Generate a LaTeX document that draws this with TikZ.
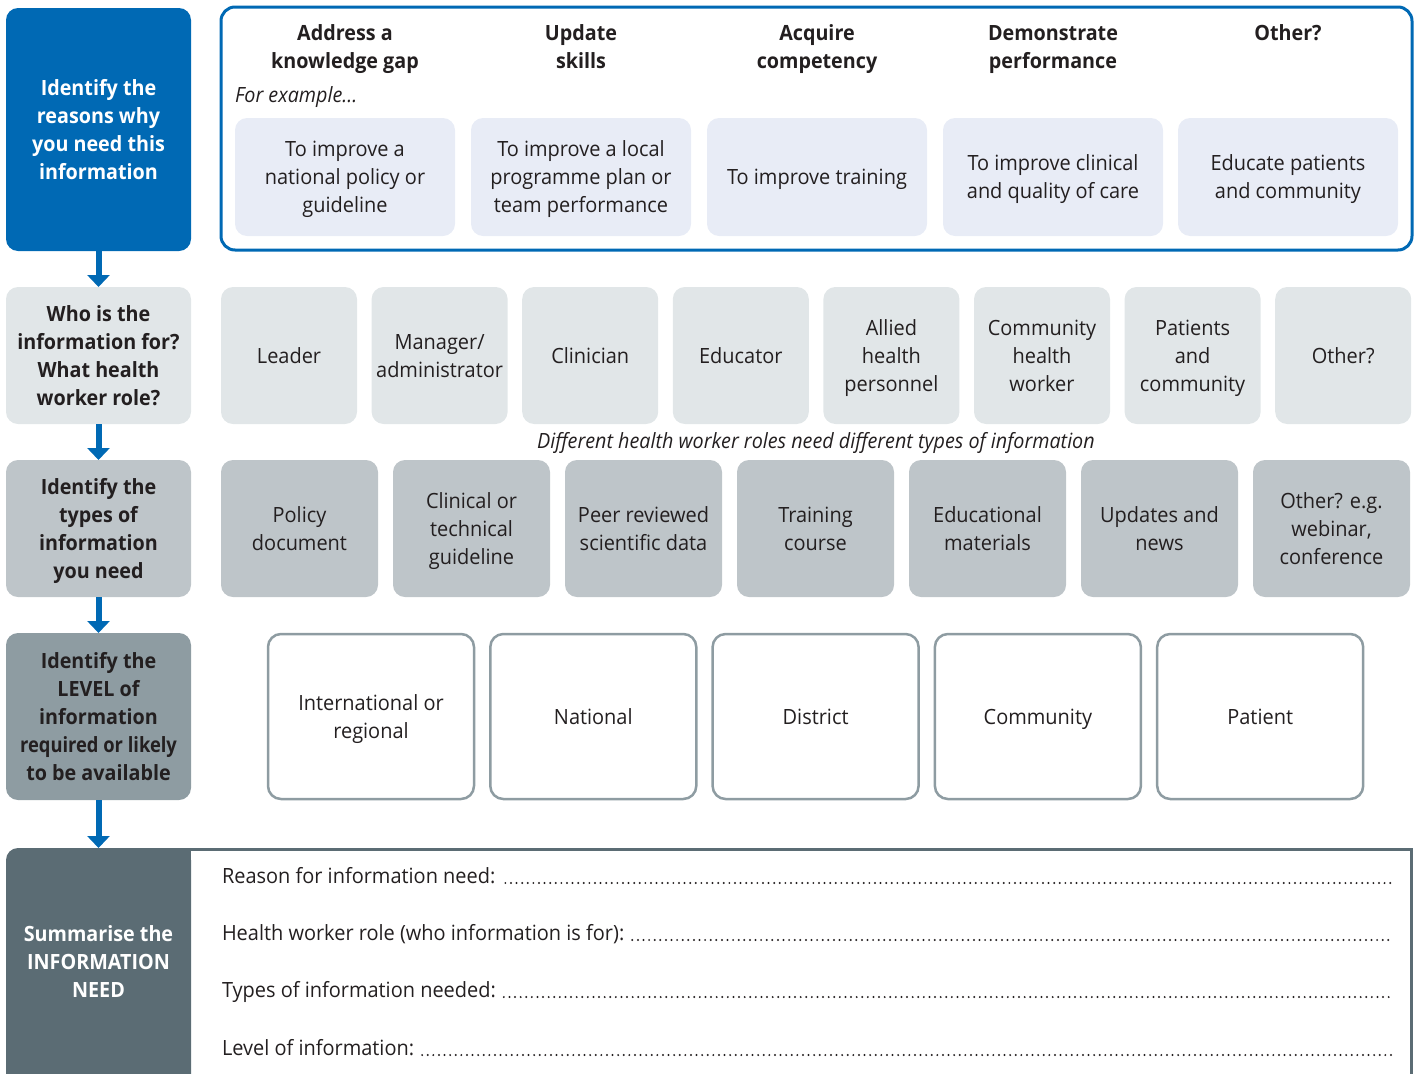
\documentclass[tikz,border=0pt]{standalone}
\usepackage{fontspec}
\usepackage{graphicx}
\setmainfont{Open Sans}[FakeStretch=0.95,BoldFeatures={FakeStretch=0.94},ItalicFeatures={FakeStretch=0.94}]
\usetikzlibrary{arrows.meta}
\definecolor{cblue}{HTML}{0069B4}
\definecolor{clav}{HTML}{E8ECF6}
\definecolor{cgrayA}{HTML}{E1E6E8}
\definecolor{cgrayB}{HTML}{BEC5C9}
\definecolor{cgrayC}{HTML}{8E9CA2}
\definecolor{cslate}{HTML}{5B6C74}
\definecolor{ink}{HTML}{231F20}
\newcommand\Ts{\rule{0pt}{21.5pt}}
\newcommand\Bs{\rule[-6.5pt]{0pt}{6.5pt}}
\begin{document}
\begin{tikzpicture}[x=1pt,y=-1pt,
  every node/.style={inner sep=0pt,outer sep=0pt,text=ink},
  txt/.style={font=\fontsize{21}{28}\selectfont,align=center},
  btxt/.style={txt,font=\fontsize{21}{28}\selectfont\bfseries},
  itxt/.style={txt,font=\fontsize{21}{28}\selectfont\itshape},
  lbox/.style={btxt,minimum width=185pt,rounded corners=12pt},
  inbox/.style={txt,fill=clav,minimum width=220pt,minimum height=118pt,rounded corners=12pt},
  rolebox/.style={txt,fill=cgrayA,minimum width=136pt,minimum height=137pt,rounded corners=12pt},
  typebox/.style={txt,fill=cgrayB,minimum width=157pt,minimum height=137pt,rounded corners=12pt},
  levbox/.style={txt,fill=white,draw=cgrayC,line width=2.5pt,minimum width=206pt,minimum height=165pt,rounded corners=13pt},
  arr/.style={draw=cblue,line width=6pt,-{Triangle[width=22pt,length=12pt]}},
  dots/.style={draw=ink,line width=2.2pt,dash pattern=on 0pt off 5.6pt,line cap=round},
  sumtxt/.style={txt,anchor=base west}
]
\useasboundingbox (0,0) rectangle (1417,1074);

% left column
\node[lbox,fill=cblue,text=white,minimum height=243pt] (b1) at (98.5,129.5)
  {\Ts Identify the\\reasons why\\you need this\\information\Bs};
\node[lbox,fill=cgrayA,minimum height=137pt] (b2) at (98.5,355.5)
  {\Ts Who is the\\information for?\\What health\\worker role?\Bs};
\node[lbox,fill=cgrayB,minimum height=137pt] (b3) at (98.5,528.5)
  {\Ts Identify the\\types of\\information\\you need\Bs};
\node[lbox,fill=cgrayC,minimum height=167pt] (b4) at (98.5,716.5)
  {\Ts Identify the\\LEVEL of\\information\\\scalebox{0.93}[1]{required or likely}\\to be available\Bs};

% summary box
\draw[cslate,line width=3pt] (188,849.5) -- (1411.5,849.5) -- (1411.5,1090);
\node[fill=cslate,minimum width=185pt,minimum height=260pt,rounded corners=12pt] (b5) at (98.5,978) {};
\fill[cslate] (b5.north east) rectangle ++(-20,20);
\node[btxt,text=white] (t5) at (98.5,962) {\Ts Summarise the\\INFORMATION\\NEED\Bs};

% arrows
\draw[arr] (b1.south) -- (b2.north);
\draw[arr] (b2.south) -- (b3.north);
\draw[arr] (b3.south) -- (b4.north);
\draw[arr] (b4.south) -- (b5.north);

% top box
\node[draw=cblue,line width=3pt,rounded corners=14pt,minimum width=1191pt,minimum height=243pt] (top) at (816.5,128.5) {};
\node[btxt] (h1) at (345,47) {\Ts Address a\\knowledge gap\Bs};
\node[btxt] (h2) at (581,47) {\Ts Update\\skills\Bs};
\node[btxt] (h3) at (817,47) {\Ts Acquire\\competency\Bs};
\node[btxt] (h4) at (1053,47) {\Ts Demonstrate\\performance\Bs};
\node[btxt] (h5) at (1288,33) {\Ts Other?\Bs};
\node[itxt,anchor=west] (fe) at (235,95) {\Ts For example…\Bs};
\node[inbox] (e1) at (345,177) {\Ts To improve a\\national policy or\\guideline\Bs};
\node[inbox] (e2) at (581,177) {\Ts To improve a local\\programme plan or\\team performance\Bs};
\node[inbox] (e3) at (817,177) {\Ts To improve training\Bs};
\node[inbox] (e4) at (1053,177) {\Ts To improve clinical\\and quality of care\Bs};
\node[inbox] (e5) at (1288,177) {\Ts Educate patients\\and community\Bs};

% roles
\node[rolebox] (r1) at (289,355.5) {\Ts Leader\Bs};
\node[rolebox] (r2) at (439.6,355.5) {\Ts Manager/\\administrator\Bs};
\node[rolebox] (r3) at (590.2,355.5) {\Ts Clinician\Bs};
\node[rolebox] (r4) at (740.8,355.5) {\Ts Educator\Bs};
\node[rolebox] (r5) at (891.4,355.5) {\Ts Allied\\health\\personnel\Bs};
\node[rolebox] (r6) at (1042,355.5) {\Ts Community\\health\\worker\Bs};
\node[rolebox] (r7) at (1192.6,355.5) {\Ts Patients\\and\\community\Bs};
\node[rolebox] (r8) at (1343.2,355.5) {\Ts Other?\Bs};
\node[itxt] (cap) at (816,441) {\Ts Different health worker roles need different types of information\Bs};

% types
\node[typebox] (y1) at (299.5,528.5) {\Ts Policy\\document\Bs};
\node[typebox] (y2) at (471.5,528.5) {\Ts Clinical or\\technical\\guideline\Bs};
\node[typebox] (y3) at (643.5,528.5) {\Ts Peer reviewed\\scientific data\Bs};
\node[typebox] (y4) at (815.5,528.5) {\Ts Training\\course\Bs};
\node[typebox] (y5) at (987.5,528.5) {\Ts Educational\\materials\Bs};
\node[typebox] (y6) at (1159.5,528.5) {\Ts Updates and\\news\Bs};
\node[typebox] (y7) at (1331.5,528.5) {\Ts Other? e.g.\\webinar,\\conference\Bs};

% levels
\node[levbox] (l1) at (371,716.5) {\Ts International or\\regional\Bs};
\node[levbox] (l2) at (593.3,716.5) {\Ts National\Bs};
\node[levbox] (l3) at (815.6,716.5) {\Ts District\Bs};
\node[levbox] (l4) at (1037.9,716.5) {\Ts Community\Bs};
\node[levbox] (l5) at (1260.2,716.5) {\Ts Patient\Bs};

% summary lines
\node[sumtxt] (s1) at (222,883) {Reason for information need:};
\node[sumtxt] (s2) at (222,940) {Health worker role (who information is for):};
\node[sumtxt] (s3) at (222,997) {Types of information needed:};
\node[sumtxt] (s4) at (222,1055) {Level of information:};
\coordinate (d1) at (1392,883);
\coordinate (d2) at (1392,940);
\coordinate (d3) at (1392,997);
\coordinate (d4) at (1392,1055);
\draw[dots] ([xshift=10pt]s1.base east) -- (d1);
\draw[dots] ([xshift=8pt]s2.base east) -- (d2);
\draw[dots] ([xshift=8pt]s3.base east) -- (d3);
\draw[dots] ([xshift=8pt]s4.base east) -- (d4);
\end{tikzpicture}
\end{document}
